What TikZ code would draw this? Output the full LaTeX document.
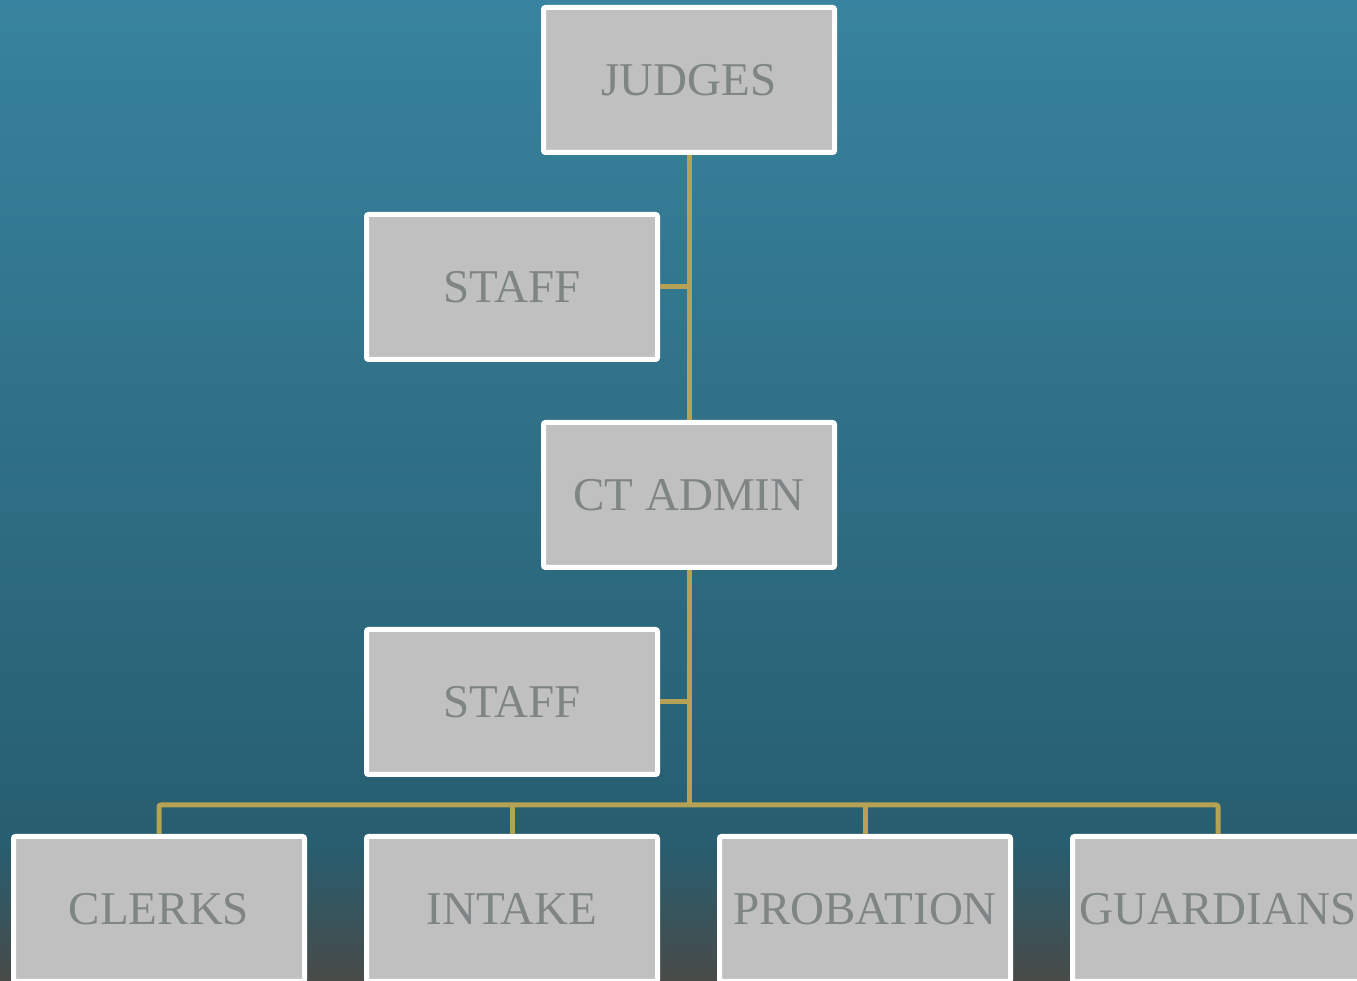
\documentclass[tikz,border=0pt]{standalone}
\usepackage{fontspec}
\setmainfont{Liberation Serif}
\definecolor{bgtop}{HTML}{38839F}
\definecolor{bgmid}{HTML}{275E70}
\definecolor{bgbot}{HTML}{484B48}
\definecolor{boxfill}{HTML}{C0C0C0}
\definecolor{boxtext}{HTML}{7F8585}
\definecolor{gold}{HTML}{B5A255}
% tikz fits the path into the 25bp--75bp band of the shading
\pgfdeclareverticalshading{bgshade}{100bp}{color(0bp)=(bgbot); color(25bp)=(bgbot); color(32bp)=(bgmid); color(75bp)=(bgtop); color(100bp)=(bgtop)}
\newcommand\bw{291pt}
\newcommand\bh{145pt}

\begin{document}
\begin{tikzpicture}[
      x=1pt, y=1pt,
      unit/.style = {
        draw=white,
        line width=5pt,
        fill=boxfill,
        rounded corners=2pt,
        minimum width=\bw,
        minimum height=\bh,
        text=boxtext,
        font=\fontsize{47}{50}\selectfont,
      },
      link/.style = {
        draw=gold,
        line width=5pt,
        rounded corners=2pt,
      },
    ]
      \clip (0, 0) rectangle (1357, 981);
      \shade[shading=bgshade] (0, 0) rectangle (1357, 981);

      \coordinate (bus) at (689, 176);
      \node[unit] (judges) at (689, 901) {JUDGES};
      \node[unit] (staffa) at (512, 694) {STAFF};
      \node[unit] (ctadmin) at (689, 486) {CT ADMIN};
      \node[unit] (staffb) at (512, 279) {STAFF};
      \node[unit] (clerks) at (159, 72) {CLERKS};
      \node[unit] (intake) at (512, 72) {INTAKE};
      \node[unit] (probation) at (865, 72) {PROBATION};
      \node[unit] (guardians) at (1218, 72) {GUARDIANS};

      \draw[link] (judges.south) -- (ctadmin.north);
      \draw[link] (staffa.east) -- (staffa.east -| judges.south);
      \draw[link] (ctadmin.south) -- (bus);
      \draw[link] (staffb.east) -- (staffb.east -| ctadmin.south);
      \draw[link] (clerks.north) |- (bus) -| (guardians.north);
      \draw[link] (intake.north) -- (intake.north |- bus);
      \draw[link] (probation.north) -- (probation.north |- bus);

    \end{tikzpicture}
\end{document}
